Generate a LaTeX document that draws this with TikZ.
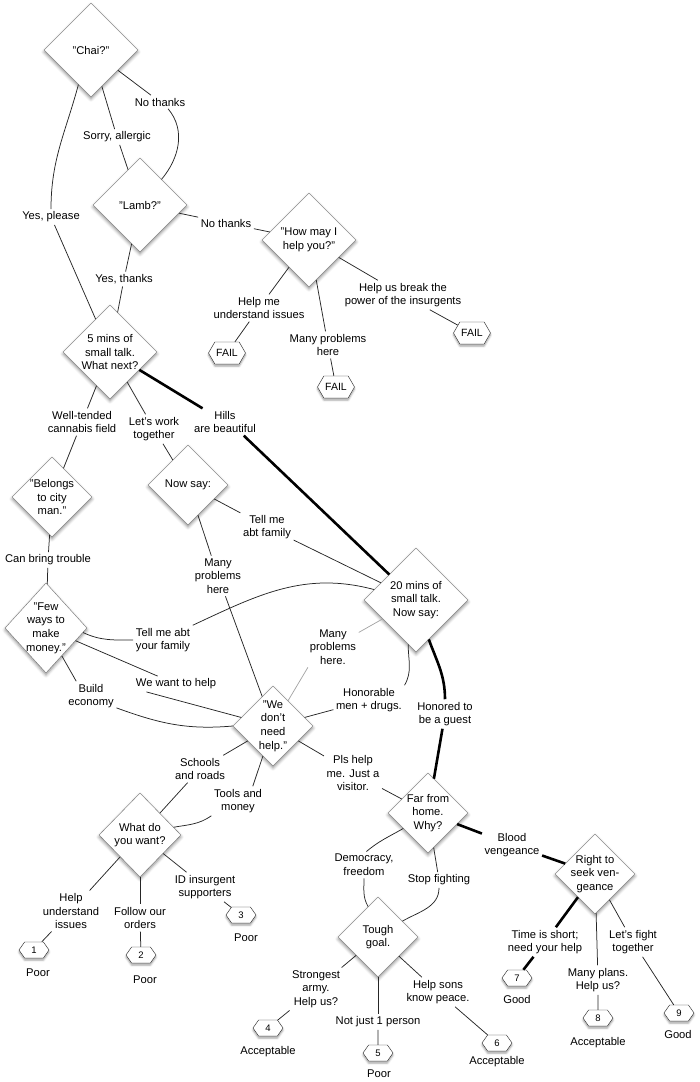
\documentclass[tikz,border=0pt]{standalone}
\usepackage{fontspec}
\setmainfont{Liberation Sans}
\usepackage{tikz}
\usetikzlibrary{shapes.geometric,shapes.symbols,shadows.blur,positioning}
\tikzstyle{decision} = [diamond, draw=black!55, fill=white, align=center, inner sep=-30pt, minimum width=80pt, minimum height=80pt, blur shadow={shadow xshift=0pt, shadow yshift=-2pt, shadow blur radius=3pt, shadow opacity=45}]
\tikzstyle{decision_big} = [decision, minimum width=94pt, minimum height=94pt]
\tikzstyle{answer} = [align=center, inner sep=2.5pt]
\tikzstyle{outcome} = [signal, signal to=west and east, signal pointer angle=110, draw=black!85, fill=white, inner sep=0pt, minimum width=30pt, minimum height=16pt, font=\fontsize{9.5}{11}\selectfont, blur shadow={shadow xshift=0pt, shadow yshift=-2pt, shadow blur radius=2pt, shadow opacity=40}]
\tikzstyle{fail} = [outcome, signal pointer angle=120, minimum width=37pt, minimum height=22pt, font=\fontsize{10.5}{12}\selectfont]
\tikzstyle{talk} = [line width=0.75pt, black!85]
\tikzstyle{talk_2} = [line width=2.6pt, black]
\tikzstyle{talk_gray} = [line width=0.75pt, black!35]

\begin{document}
\begin{tikzpicture}[font=\fontsize{11.2}{13.7}\selectfont]
    \useasboundingbox (0,0) rectangle (700pt,-1082pt);

    % opening
    \node (chai) [decision_big] at (91pt,-50pt) {"Chai?"};
    \node (no_thanks_1) [answer, below of=chai, node distance=52pt, xshift=69pt] {No thanks};
    \node (sorry) [answer, below of=chai, node distance=87pt, xshift=26pt] {Sorry, allergic};
    \node (yes_please) [answer, below of=chai, node distance=167pt, xshift=-40pt] {Yes, please};
    \node (lamb) [decision_big, below of=chai, node distance=155pt, xshift=49pt] {"Lamb?"};
    \node (no_thanks_2) [answer, right of=lamb, node distance=86pt, yshift=-18pt] {No thanks};
    \node (yes_thanks) [answer, below of=lamb, node distance=74pt, xshift=-16pt] {Yes, thanks};
    \node (how_help) [decision_big, right of=lamb, node distance=169pt, yshift=-35pt] {"How may I\\help you?"};
    \node (help_me) [answer, below of=how_help, node distance=68pt, xshift=-50pt] {Help me\\understand issues};
    \node (many_problems_1) [answer, below of=how_help, node distance=105pt, xshift=19pt] {Many problems\\here};
    \node (break_power) [answer, below of=how_help, node distance=55pt, xshift=94pt] {Help us break the\\power of the insurgents};
    \node (fail_1) [fail, below of=help_me, node distance=45pt, xshift=-32pt] {FAIL};
    \node (fail_2) [fail, below of=many_problems_1, node distance=42pt, xshift=8pt] {FAIL};
    \node (fail_3) [fail, below of=break_power, node distance=38pt, xshift=69pt] {FAIL};

    % small talk
    \node (five_mins) [decision_big, below of=lamb, node distance=147pt, xshift=-30pt] {5 mins of\\small talk.\\What next?};
    \node (cannabis) [answer, below of=five_mins, node distance=70pt, xshift=-28pt] {Well-tended\\cannabis field};
    \node (work_together) [answer, below of=five_mins, node distance=77pt, xshift=44pt] {Let's work\\together};
    \node (hills) [answer, below of=five_mins, node distance=70pt, xshift=115pt] {Hills\\are beautiful};
    \node (city_man) [decision, below of=cannabis, node distance=75pt, xshift=-30pt] {"Belongs\\to city\\man."};
    \node (now_say) [decision, below of=work_together, node distance=56pt, xshift=34pt] {Now say:};
    \node (trouble) [answer, below of=city_man, node distance=63pt, xshift=-4pt] {Can bring trouble};
    \node (abt_family) [answer, below of=now_say, node distance=42pt, xshift=79pt] {Tell me\\abt family};
    \node (many_problems_2) [answer, below of=now_say, node distance=91pt, xshift=30pt] {Many\\problems\\here};
    \node (twenty_mins) [decision, minimum width=104pt, minimum height=104pt, below of=hills, node distance=178pt, xshift=191pt] {20 mins of\\small talk.\\Now say:};
    \node (few_ways) [decision, minimum width=82pt, minimum height=90pt, below of=trouble, node distance=68pt, xshift=-2pt] {"Few\\ways to\\make\\money."};
    \node (your_family) [answer, right of=few_ways, node distance=117pt, yshift=-12pt] {Tell me abt\\your family};
    \node (want_help) [answer, below of=few_ways, node distance=56pt, xshift=130pt] {We want to help};
    \node (economy) [answer, below of=few_ways, node distance=68pt, xshift=45pt] {Build\\economy};
    \node (many_problems_3) [answer, below of=twenty_mins, node distance=47pt, xshift=-83pt] {Many\\problems\\here.};
    \node (honorable) [answer, below of=twenty_mins, node distance=100pt, xshift=-47pt] {Honorable\\men + drugs.};
    \node (honored) [answer, below of=twenty_mins, node distance=114pt, xshift=29pt] {Honored to\\be a guest};

    % help
    \node (no_need) [decision, below of=many_problems_2, node distance=150pt, xshift=55pt] {"We\\don't\\need\\help."};
    \node (schools) [answer, below of=no_need, node distance=43pt, xshift=-73pt] {Schools\\and roads};
    \node (tools) [answer, below of=no_need, node distance=75pt, xshift=-35pt] {Tools and\\money};
    \node (visitor) [answer, below of=no_need, node distance=47pt, xshift=80pt] {Pls help\\me. Just a\\visitor.};
    \node (what_want) [decision, minimum width=82pt, minimum height=84pt, below of=schools, node distance=66pt, xshift=-60pt] {What do\\you want?};
    \node (help_issues) [answer, below of=what_want, node distance=76pt, xshift=-69pt] {Help\\understand\\issues};
    \node (orders) [answer, below of=what_want, node distance=83pt] {Follow our\\orders};
    \node (id_insurgents) [answer, below of=what_want, node distance=52pt, xshift=65pt] {ID insurgent\\supporters};

    % guest
    \node (far_home) [decision, below of=honored, node distance=99pt, xshift=-17pt] {Far from\\home.\\Why?};
    \node (blood) [answer, right of=far_home, node distance=84pt, yshift=-32pt] {Blood\\vengeance};
    \node (democracy) [answer, below of=far_home, node distance=52pt, xshift=-64pt] {Democracy,\\freedom};
    \node (stop_fighting) [answer, below of=far_home, node distance=67pt, xshift=11pt] {Stop fighting};
    \node (vengeance) [decision, right of=blood, node distance=83pt, yshift=-29pt] {Right to\\seek ven-\\geance};
    \node (tough) [decision, below of=far_home, node distance=124pt, xshift=-50pt] {Tough\\goal.};
    \node (strongest) [answer, below of=tough, node distance=52pt, xshift=-62pt] {Strongest\\army.\\Help us?};
    \node (not_just) [answer, below of=tough, node distance=85pt] {Not just 1 person};
    \node (sons) [answer, below of=tough, node distance=55pt, xshift=60pt] {Help sons\\know peace.};
    \node (time_short) [answer, below of=vengeance, node distance=68pt, xshift=-50pt] {Time is short;\\need your help};
    \node (many_plans) [answer, below of=vengeance, node distance=106pt, xshift=3pt] {Many plans.\\Help us?};
    \node (fight) [answer, below of=vengeance, node distance=68pt, xshift=38pt] {Let's fight\\together};

    % outcomes
    \node (out_1) [outcome, below of=help_issues, node distance=39pt, xshift=-37pt] {1};
    \node (rate_1) [answer, below of=out_1, node distance=23pt, xshift=4pt] {Poor};
    \node (out_2) [outcome, below of=orders, node distance=37pt, xshift=1pt] {2};
    \node (rate_2) [answer, below of=out_2, node distance=25pt, xshift=4pt] {Poor};
    \node (out_3) [outcome, below of=id_insurgents, node distance=28pt, xshift=36pt] {3};
    \node (rate_3) [answer, below of=out_3, node distance=23pt, xshift=5pt] {Poor};
    \node (out_4) [outcome, below of=strongest, node distance=39pt, xshift=-48pt] {4};
    \node (rate_4) [answer, below of=out_4, node distance=24pt] {Acceptable};
    \node (out_5) [outcome, below of=not_just, node distance=31pt] {5};
    \node (rate_5) [answer, below of=out_5, node distance=21pt, xshift=1pt] {Poor};
    \node (out_6) [outcome, below of=sons, node distance=51pt, xshift=59pt] {6};
    \node (rate_6) [answer, below of=out_6, node distance=19pt] {Acceptable};
    \node (out_7) [outcome, below of=time_short, node distance=36pt, xshift=-28pt] {7};
    \node (rate_7) [answer, below of=out_7, node distance=21pt] {Good};
    \node (out_8) [outcome, below of=many_plans, node distance=38pt] {8};
    \node (rate_8) [answer, below of=out_8, node distance=25pt] {Acceptable};
    \node (out_9) [outcome, below of=fight, node distance=71pt, xshift=46pt] {9};
    \node (rate_9) [answer, below of=out_9, node distance=21pt, xshift=-1pt] {Good};

    % connectors
    \draw [talk] (chai) -- (no_thanks_1);
    \draw [talk] (no_thanks_1.-40) to[out=-50, in=50] (lamb.50);
    \draw [talk] (chai) -- (sorry);
    \draw [talk] (sorry) -- (lamb);
    \draw [talk] (chai.-110) to[out=-105, in=90] (yes_please.north);
    \draw [talk] (yes_please) -- (five_mins);
    \draw [talk] (lamb) -- (no_thanks_2);
    \draw [talk] (no_thanks_2) -- (how_help);
    \draw [talk] (lamb) -- (yes_thanks);
    \draw [talk] (yes_thanks) -- (five_mins);
    \draw [talk] (how_help) -- (help_me);
    \draw [talk] (help_me) -- (fail_1);
    \draw [talk] (how_help) -- (many_problems_1);
    \draw [talk] (many_problems_1) -- (fail_2);
    \draw [talk] (how_help) -- (break_power);
    \draw [talk] (break_power) -- (fail_3);

    \draw [talk_2] (five_mins) -- (hills);
    \draw [talk_2] (hills.-36) -- (twenty_mins);
    \draw [talk] (five_mins) -- (cannabis);
    \draw [talk] (cannabis) -- (city_man);
    \draw [talk] (five_mins) -- (work_together);
    \draw [talk] (work_together) -- (now_say);
    \draw [talk] (city_man) -- (trouble);
    \draw [talk] (trouble) -- (few_ways);
    \draw [talk] (now_say) -- (abt_family);
    \draw [talk] (abt_family) -- (twenty_mins);
    \draw [talk] (now_say) -- (many_problems_2);
    \draw [talk] (many_problems_2) -- (no_need);
    \draw [talk] (twenty_mins.166) to[out=165, in=25] (your_family.north east);
    \draw [talk_gray] (twenty_mins) -- (many_problems_3);
    \draw [talk_gray] (many_problems_3.219) -- (no_need);
    \draw [talk] (twenty_mins.-100) to[out=-90, in=60] (honorable.north east);
    \draw [talk] (honorable) -- (no_need);
    \draw [talk_2] (twenty_mins.-72) to[out=-70, in=90] (honored.north);
    \draw [talk_2] (honored) -- (far_home);

    \draw [talk] (few_ways.-7) to[out=-25, in=180] (your_family.west);
    \draw [talk] (few_ways) -- (want_help);
    \draw [talk] (want_help.195) -- (no_need);
    \draw [talk] (few_ways) -- (economy.135);
    \draw [talk] (economy.-25) to[out=-20, in=185] (no_need.west);
    \draw [talk] (no_need) -- (schools);
    \draw [talk] (schools) -- (what_want);
    \draw [talk] (no_need) -- (tools.45);
    \draw [talk] (tools.south west) to[out=-145, in=10] (what_want.13);
    \draw [talk] (no_need) -- (visitor);
    \draw [talk] (visitor) -- (far_home);
    \draw [talk] (what_want) -- (help_issues);
    \draw [talk] (help_issues) -- (out_1);
    \draw [talk] (what_want) -- (orders);
    \draw [talk] (orders) -- (out_2);
    \draw [talk] (what_want) -- (id_insurgents);
    \draw [talk] (id_insurgents) -- (out_3);

    \draw [talk_2] (far_home) -- (blood);
    \draw [talk_2] (blood) -- (vengeance);
    \draw [talk] (far_home.212) to[out=210, in=40] (democracy.80);
    \draw [talk] (democracy.south) to[out=-90, in=120] (tough.108);
    \draw [talk] (far_home) -- (stop_fighting);
    \draw [talk] (stop_fighting.south) to[out=-90, in=30] (tough.33);
    \draw [talk] (tough) -- (strongest);
    \draw [talk] (strongest) -- (out_4);
    \draw [talk] (tough) -- (not_just);
    \draw [talk] (not_just) -- (out_5);
    \draw [talk] (tough) -- (sons);
    \draw [talk] (sons) -- (out_6);
    \draw [talk_2] (vengeance) -- (time_short);
    \draw [talk_2] (time_short) -- (out_7);
    \draw [talk] (vengeance) -- (many_plans);
    \draw [talk] (many_plans) -- (out_8);
    \draw [talk] (vengeance) -- (fight);
    \draw [talk] (fight) -- (out_9);
\end{tikzpicture}
\end{document}
